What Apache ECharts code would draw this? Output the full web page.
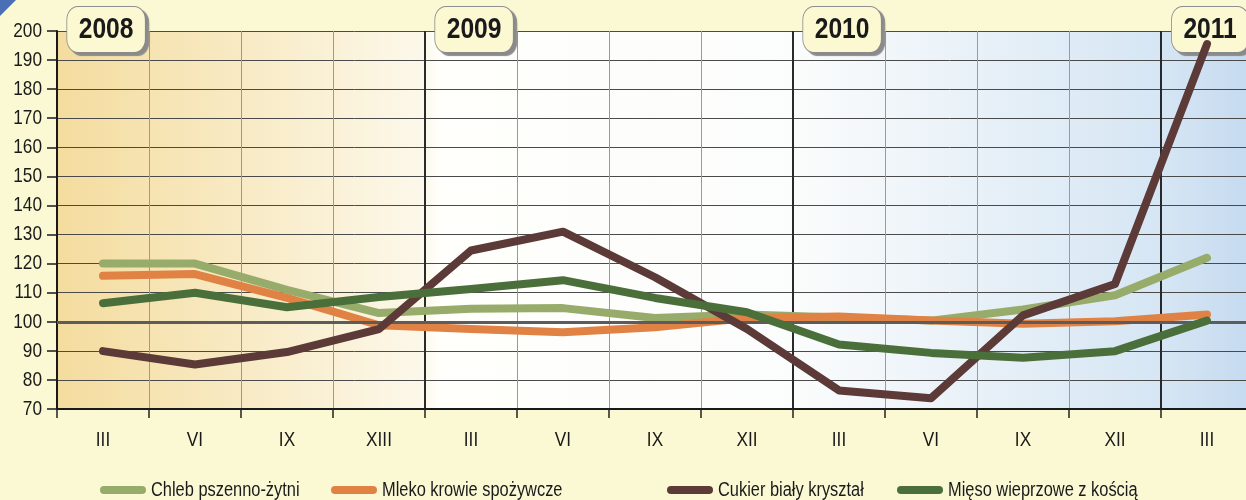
<!DOCTYPE html>
<html><head><meta charset="utf-8">
<script src="https://cdn.jsdelivr.net/npm/echarts@6/dist/echarts.min.js"></script>
<style>html,body{margin:0;padding:0;background:#fbf9d4;}#c{width:1246px;height:500px;}</style>
</head><body><div id="c"></div>
<script>
const xLabels = ['III','VI','IX','XIII','III','VI','IX','XII','III','VI','IX','XII','III'];
const yearLabels = ['2008','','','','2009','','','','2010','','','','2011'];
const seriesNames = ['Chleb pszenno-żytni','Mleko krowie spożywcze','Cukier biały kryształ','Mięso wieprzowe z kością'];
const chleb  = [120, 120, 111, 103, 104.5, 104.7, 101.3, 102.5, 101.5, 100.4, 104.2, 109.1, 122];
const mleko  = [115.8, 116.4, 108.2, 98.8, 97.5, 96.4, 98.1, 101.3, 101.8, 100.4, 99.3, 100.2, 102.5];
const cukier = [89.9, 85.3, 89.6, 97.5, 124.5, 131, 115.3, 97.5, 76.4, 73.7, 102.2, 113, 195.5];
const mieso  = [106.4, 110, 105, 108.5, 111.3, 114.3, 108.2, 103.3, 92.2, 89.3, 87.6, 89.9, 100.4];
const yMin = 70, yMax = 200, yStep = 10, refLine = 100;

const colors = ['#97ac6a', '#df8244', '#5c3a38', '#4b6f3a'];
const FONT = "'Liberation Sans', Arial, sans-serif";
const NARROW = 0.82; // Arial Narrow look: condensed Liberation Sans
const legendLefts = [100, 331, 667, 897];
const dataSets = [chleb, mleko, cukier, mieso];

const chart = echarts.init(document.getElementById('c'));
chart.setOption({
  backgroundColor: '#fbf9d4',
  animation: false,
  grid: {
    left: 57, right: -7, top: 31, bottom: 91,
    containLabel: false, outerBoundsMode: 'none',
    show: true, borderWidth: 0,
    backgroundColor: new echarts.graphic.LinearGradient(0, 0, 1, 0, [
      {offset: 0, color: '#f4dc9e'},
      {offset: 0.307, color: '#fcf8ea'},
      {offset: 0.32, color: '#fffffb'},
      {offset: 0.615, color: '#fbfcfc'},
      {offset: 0.92, color: '#d6e6f4'},
      {offset: 1, color: '#c5daf0'}
    ])
  },
  graphic: [{
    type: 'polygon', z: 100,
    shape: {points: [[0,0],[16,0],[0,16]]},
    style: {fill: '#4a6fb5'}
  }],
  legend: seriesNames.map((n, i) => ({
    data: [n], left: legendLefts[i], top: 480, padding: 0,
    itemWidth: 46, itemHeight: 8, itemGap: 6,
    icon: 'path://M4 0H42A4 4 0 0 1 42 8H4A4 4 0 0 1 4 0Z',
    textStyle: {fontFamily: FONT, fontSize: 20, color: '#1a1a1a'}
  })),
  xAxis: [{
    type: 'category', data: xLabels, boundaryGap: true, position: 'bottom',
    axisLine: {show: true, lineStyle: {color: '#1a1a1a', width: 2}},
    axisTick: {show: true, length: 9, lineStyle: {color: '#222', width: 1.5}},
    axisLabel: {interval: 0, margin: 21, fontFamily: FONT, fontSize: 21, color: '#1a1a1a'},
    splitLine: {show: true, lineStyle: {color: '#9a9a9a', width: 1}}
  }, {
    type: 'category', data: yearLabels, boundaryGap: true, position: 'top',
    axisLine: {show: false}, axisTick: {show: false},
    splitLine: {show: true, interval: (i) => i % 4 === 0, lineStyle: {color: '#2a2a2a', width: 2}},
    axisLabel: {
      interval: (i, v) => v !== '', margin: -21,
      fontFamily: FONT, fontSize: 30, fontWeight: 'bold', color: '#1a1a1a',
      backgroundColor: '#fbf8d2', borderColor: '#8f8f8f', borderWidth: 1, borderRadius: 13,
      padding: [8, 14, 7, 14],
      shadowColor: '#8a8a8a', shadowOffsetX: 3.5, shadowOffsetY: 3, shadowBlur: 1
    }
  }],
  yAxis: {
    type: 'value', min: yMin, max: yMax, interval: yStep,
    axisLine: {show: true, lineStyle: {color: '#1a1a1a', width: 2}},
    axisTick: {show: true, length: 10, lineStyle: {color: '#1a1a1a', width: 1.5}},
    axisLabel: {margin: 15, fontFamily: FONT, fontSize: 21, color: '#1a1a1a'},
    splitLine: {show: true, lineStyle: {color: '#4a4a4a', width: 1}}
  },
  series: [{
    type: 'line', name: '_ref', data: [], z: 1, silent: true,
    markLine: {
      silent: true, symbol: 'none', label: {show: false},
      lineStyle: {color: '#5c5c5c', width: 3, type: 'solid'},
      data: [{yAxis: refLine}]
    }
  }].concat(seriesNames.map((n, i) => ({
    type: 'line', name: n, data: dataSets[i], symbol: 'none', z: 3 + i,
    color: colors[i],
    lineStyle: {width: 8, color: colors[i], cap: 'round', join: 'round'}
  })))
});

// Condense all chart texts horizontally (Arial Narrow look), around each text's own anchor
(function condense() {
  const zr = chart.getZr();
  const visit = el => {
    if (el && el.type === 'text') {
      const sx = (el.style && typeof el.style.x === 'number') ? el.style.x : 0;
      const bold = el.style && el.style.fontWeight === 'bold';
      el.originX = sx + (bold ? 17 : 0);
      el.scaleX = NARROW;
      el.markRedraw && el.markRedraw();
    }
  };
  zr.storage.getRoots().forEach(root => {
    visit(root);
    if (root.traverse) root.traverse(visit);
  });
  zr.refreshImmediately();
})();
</script></body></html>
